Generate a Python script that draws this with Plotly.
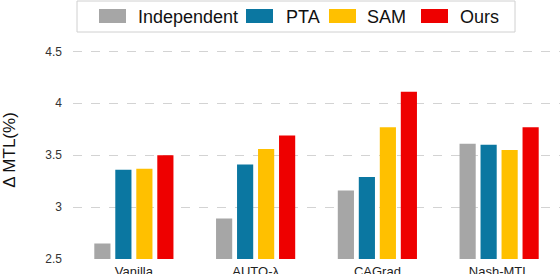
import plotly.graph_objects as go

categories = ["Vanilla", "AUTO-λ", "CAGrad", "Nash-MTL"]
series_names = ["Independent", "PTA", "SAM", "Ours"]
independent = [2.65, 2.89, 3.16, 3.61]
pta = [3.36, 3.41, 3.29, 3.60]
sam = [3.37, 3.56, 3.77, 3.55]
ours = [3.50, 3.69, 4.11, 3.77]
y_ticks = [2.5, 3, 3.5, 4, 4.5]
y_tick_labels = ["2.5", "3", "3.5", "4", "4.5"]

colors = ["#A6A6A6", "#0B77A1", "#FFC000", "#EE0000"]
values = [independent, pta, sam, ours]

W, H = 560, 274
ML, MR, MT, MB = 73, 0, 41, 15
PW, PH = W - ML - MR, H - MT - MB


def px_x(px):
    return (px - ML) / PW


def px_y(py):
    return (H - MB - py) / PH


fig = go.Figure()
for name, vals, col in zip(series_names, values, colors):
    fig.add_trace(go.Bar(x=categories, y=vals, name=name, marker_color=col,
                         marker_line_width=0, showlegend=False))

# manual legend (larger swatches like the reference)
shapes = [dict(type="rect", xref="paper", yref="paper",
               x0=px_x(77), x1=px_x(515), y0=px_y(1), y1=px_y(32),
               line=dict(color="#d0d0d0", width=1), fillcolor="white", layer="above")]
annotations = []
swatch_x = [99, 246, 329, 421]
text_x = [136, 284, 365, 458]
for name, col, sx, tx in zip(series_names, colors, swatch_x, text_x):
    shapes.append(dict(type="rect", xref="paper", yref="paper",
                       x0=px_x(sx), x1=px_x(sx + 27), y0=px_y(9), y1=px_y(23),
                       line=dict(width=0), fillcolor=col, layer="above"))
    annotations.append(dict(text=name, xref="paper", yref="paper",
                            x=px_x(tx), y=px_y(16.5), xanchor="left", yanchor="middle",
                            showarrow=False, font=dict(size=18, color="#111")))

fig.update_layout(
    width=W, height=H,
    margin=dict(l=ML, r=MR, t=MT, b=MB, autoexpand=False),
    paper_bgcolor="white", plot_bgcolor="white",
    font=dict(family="Liberation Sans, Arial", color="#222"),
    barmode="group", bargap=0.31, bargroupgap=0.23,
    showlegend=False,
    shapes=shapes, annotations=annotations,
    xaxis=dict(showline=False, ticks="", tickfont=dict(size=13, color="#222"),
               showgrid=False, automargin=False, ticklabelstandoff=3),
    yaxis=dict(range=[2.5, 4.6], tickvals=y_ticks, ticktext=y_tick_labels,
               showgrid=True, gridcolor="#d3d3d3", griddash="dash", gridwidth=1,
               zeroline=False, showline=False, ticks="",
               tickfont=dict(size=12, color="#333"),
               ticklabelstandoff=10, automargin=False,
               title=dict(text="Δ MTL(%)", font=dict(size=17, color="#111"), standoff=25)),
)
fig.write_html("out.html", config={"displayModeBar": False},
               post_script="document.body.style.margin='0';")
